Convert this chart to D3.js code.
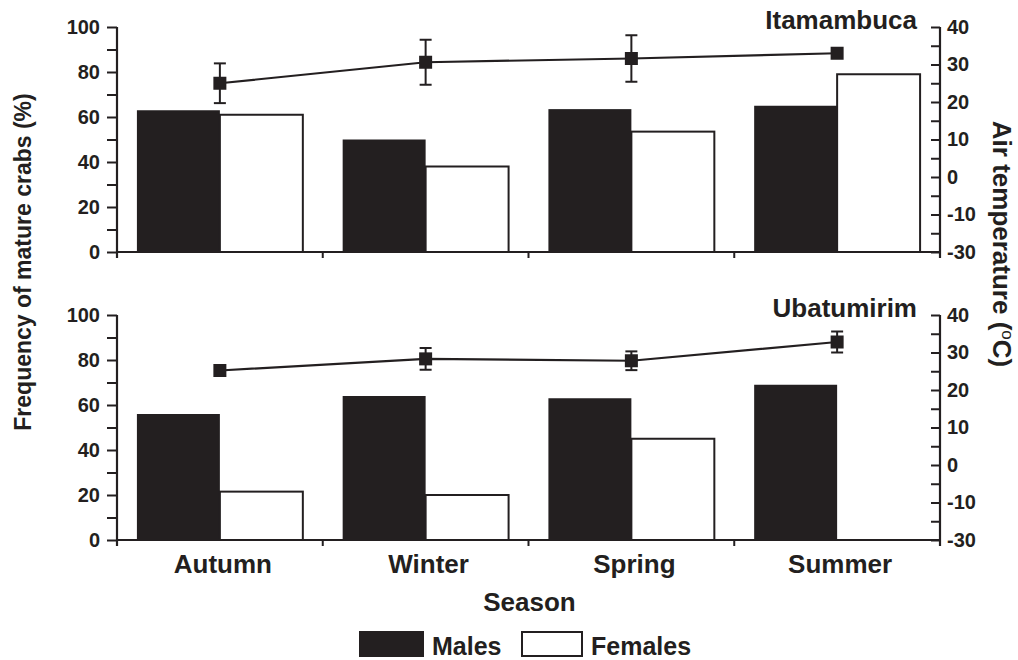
<!DOCTYPE html>
<html>
<head>
<meta charset="utf-8">
<script src="https://cdn.jsdelivr.net/npm/d3@7"></script>
<style>
  html, body { margin: 0; padding: 0; background: #fff; }
  svg { display: block; }
  text { font-family: "Liberation Sans", Arial, sans-serif; font-weight: bold; fill: #231f20; }
</style>
</head>
<body>
<svg id="chart" width="1018" height="660"></svg>
<script>
// Seasonal frequency of mature crabs (bars) with mean air temperature (line) at two sites
const seasons = ["Autumn", "Winter", "Spring", "Summer"];
const sexes = ["Males", "Females"];

const itaMales = [63, 50, 63.5, 65];
const itaFemales = [61, 38, 53.5, 79];
const itaTemp = [25, 30.6, 31.6, 33];
const itaTempErr = [5.3, 6, 6.2, 0];

const ubaMales = [56, 64, 63, 69];
const ubaFemales = [21.5, 20, 45, 0];
const ubaTemp = [25.2, 28.3, 27.8, 32.8];
const ubaTempErr = [0, 2.9, 2.5, 2.8];

const freqTicks = [0, 10, 20, 30, 40, 50, 60, 70, 80, 90, 100];
const tempTicks = [-20, -15, -10, -5, 0, 5, 10, 15, 20, 25, 30, 35, 40];
// printed labels for the labelled temperature ticks (the lowest one is printed as -30)
const tempTickLabels = { "40": "40", "30": "30", "20": "20", "10": "10", "0": "0", "-10": "-10", "-20": "-30" };

const ink = "#231f20";
const svg = d3.select("#chart");

const xLeft = 117, xRight = 940;
const x = d3.scaleBand().domain(seasons).range([xLeft, xRight]).paddingInner(0).paddingOuter(0);
const xSex = d3.scaleBand().domain(sexes).range([0, x.bandwidth()]).paddingInner(0).paddingOuter(0.24);

const panels = [
  { name: "Itamambuca", males: itaMales, females: itaFemales, temp: itaTemp, err: itaTempErr, top: 27, bottom: 252 },
  { name: "Ubatumirim", males: ubaMales, females: ubaFemales, temp: ubaTemp, err: ubaTempErr, top: 315, bottom: 540 }
];

panels.forEach(p => {
  const y = d3.scaleLinear().domain([0, 100]).range([p.bottom, p.top]);
  const yT = d3.scaleLinear().domain([-20, 40]).range([p.bottom, p.top]);
  const g = svg.append("g");

  // bars
  const rows = seasons.map((s, i) => ({ season: s, values: [p.males[i], p.females[i]] }));
  g.selectAll("g.grp").data(rows).join("g")
    .attr("transform", d => `translate(${x(d.season)},0)`)
    .selectAll("rect").data(d => d.values.map((v, j) => ({ sex: sexes[j], v })))
    .join("rect")
      .attr("x", d => xSex(d.sex))
      .attr("width", xSex.bandwidth())
      .attr("y", d => y(d.v))
      .attr("height", d => y(0) - y(d.v))
      .attr("fill", d => d.sex === "Males" ? ink : "#fff")
      .attr("stroke", ink)
      .attr("stroke-width", d => d.sex === "Males" ? 0 : 2)
      .attr("visibility", d => d.v > 0 ? "visible" : "hidden");

  // left axis (frequency)
  const la = g.append("g").attr("transform", `translate(${xLeft},0)`)
    .call(d3.axisLeft(y).tickValues(freqTicks).tickSize(10).tickPadding(7)
      .tickFormat(d => d % 20 === 0 ? d : ""));
  la.select(".domain").remove();
  la.selectAll(".tick line").attr("stroke", ink).attr("stroke-width", 2);
  la.selectAll(".tick text").style("font-size", "20px").attr("fill", ink);
  g.append("line").attr("x1", xLeft).attr("x2", xLeft).attr("y1", p.top).attr("y2", p.bottom + 6)
    .attr("stroke", ink).attr("stroke-width", 2.2);

  // right axis (temperature), ticks pointing inward
  const ra = g.append("g").attr("transform", `translate(${xRight},0)`)
    .call(d3.axisRight(yT).tickValues(tempTicks).tickSize(-9).tickPadding(8)
      .tickFormat(d => tempTickLabels[String(d)] || ""));
  ra.select(".domain").remove();
  ra.selectAll(".tick line").attr("stroke", ink).attr("stroke-width", 2);
  ra.selectAll(".tick text").style("font-size", "20px").attr("fill", ink).attr("x", 7);
  g.append("line").attr("x1", xRight).attr("x2", xRight).attr("y1", p.top).attr("y2", p.bottom + 6)
    .attr("stroke", ink).attr("stroke-width", 2.2);

  // bottom axis with ticks at season boundaries
  g.append("line").attr("x1", xLeft).attr("x2", xRight).attr("y1", y(0)).attr("y2", y(0))
    .attr("stroke", ink).attr("stroke-width", 2.2);
  g.selectAll("line.bt").data(seasons.slice(1)).join("line")
    .attr("x1", d => x(d)).attr("x2", d => x(d))
    .attr("y1", y(0)).attr("y2", y(0) + 6)
    .attr("stroke", ink).attr("stroke-width", 2);

  // temperature line, error bars and markers
  const cx = s => x(s) + x.bandwidth() / 2;
  const pts = seasons.map((s, i) => ({ s, t: p.temp[i], e: p.err[i] }));
  g.append("path").datum(pts)
    .attr("d", d3.line().x(d => cx(d.s)).y(d => yT(d.t)))
    .attr("fill", "none").attr("stroke", ink).attr("stroke-width", 2.2);
  const eb = g.selectAll("g.eb").data(pts.filter(d => d.e > 0)).join("g");
  eb.append("line").attr("x1", d => cx(d.s)).attr("x2", d => cx(d.s))
    .attr("y1", d => yT(d.t + d.e)).attr("y2", d => yT(d.t - d.e))
    .attr("stroke", ink).attr("stroke-width", 2);
  [1, -1].forEach(sg => {
    eb.append("line").attr("x1", d => cx(d.s) - 6).attr("x2", d => cx(d.s) + 6)
      .attr("y1", d => yT(d.t + sg * d.e)).attr("y2", d => yT(d.t + sg * d.e))
      .attr("stroke", ink).attr("stroke-width", 2);
  });
  g.selectAll("rect.mk").data(pts).join("rect")
    .attr("x", d => cx(d.s) - 6.5).attr("y", d => yT(d.t) - 6.5)
    .attr("width", 13).attr("height", 13).attr("fill", ink);

  // site name
  g.append("text").attr("x", 917).attr("y", p.top + 2)
    .attr("text-anchor", "end").style("font-size", "26px").text(p.name);
});

// season labels
svg.selectAll("text.cat").data(seasons).join("text")
  .attr("x", d => x(d) + x.bandwidth() / 2 + 3).attr("y", 573)
  .attr("text-anchor", "middle").style("font-size", "26px").text(d => d);

svg.append("text").attr("x", (xLeft + xRight) / 2 + 1).attr("y", 611)
  .attr("text-anchor", "middle").style("font-size", "26px").text("Season");

// axis titles
svg.append("text").attr("transform", "translate(31,262) rotate(-90)")
  .attr("text-anchor", "middle").style("font-size", "23px").text("Frequency of mature crabs (%)");
const rt = svg.append("text").attr("transform", "translate(993,244) rotate(90)")
  .attr("text-anchor", "middle").style("font-size", "26px");
rt.append("tspan").text("Air temperature (");
rt.append("tspan").attr("dy", -9).style("font-size", "17px").style("font-weight", "normal").text("o");
rt.append("tspan").attr("dy", 9).text("C)");

// legend
const legend = svg.append("g");
const legendItems = [
  { label: "Males", fill: ink, x: 360, w: 63 },
  { label: "Females", fill: "#fff", x: 522, w: 60 }
];
legendItems.forEach(it => {
  legend.append("rect").attr("x", it.x).attr("y", 632).attr("width", it.w).attr("height", 24)
    .attr("fill", it.fill).attr("stroke", ink).attr("stroke-width", 2);
  legend.append("text").attr("x", it.x + it.w + 9).attr("y", 655)
    .style("font-size", "25px").text(it.label);
});
</script>
</body>
</html>
